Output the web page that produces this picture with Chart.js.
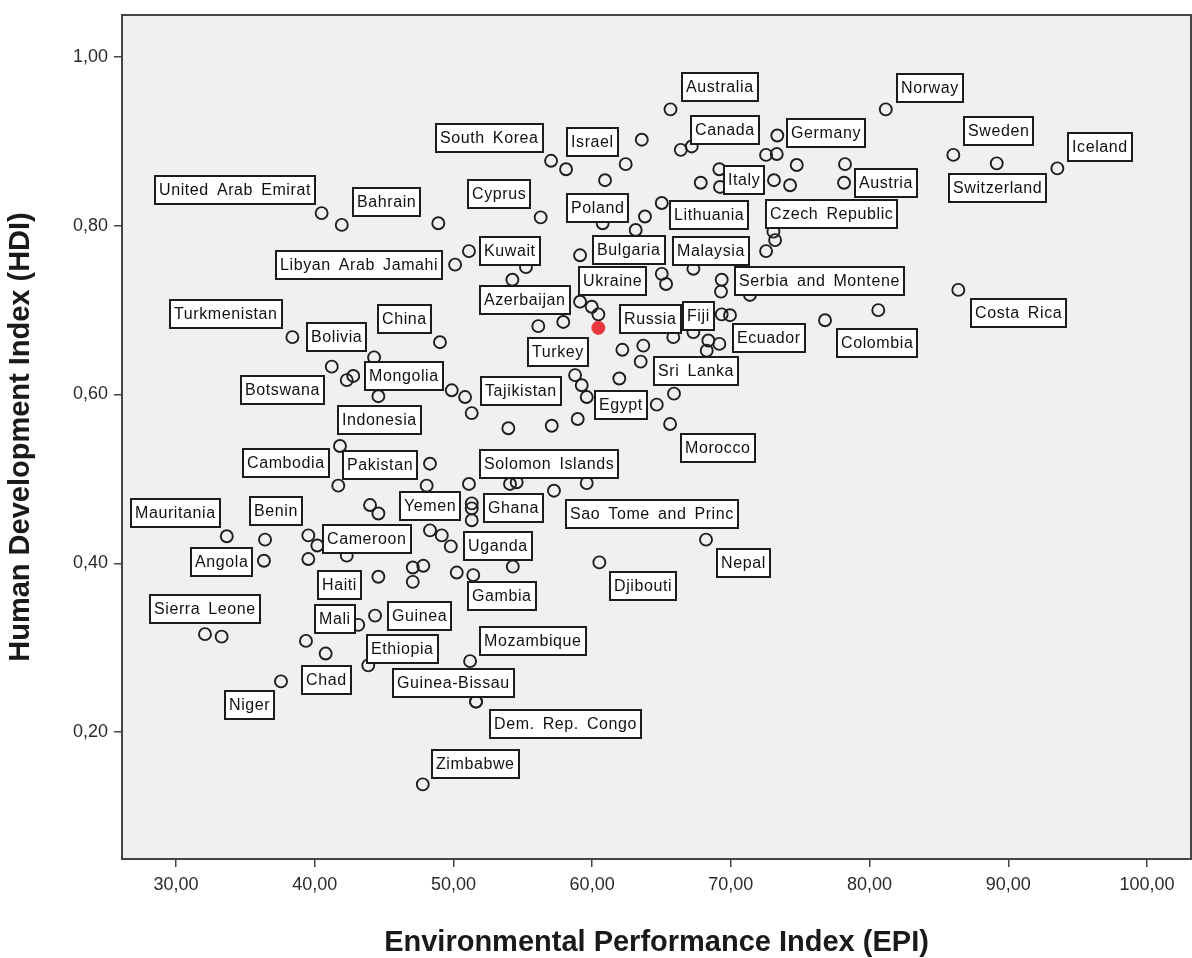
<!DOCTYPE html>
<html lang="en">
<head>
<meta charset="UTF-8">
<title>EPI vs HDI</title>
<script src="https://cdn.jsdelivr.net/npm/chart.js"></script>
<style>
  html, body { margin: 0; padding: 0; background: #fff; overflow: hidden; }
  .wrap { width: 1192px; height: 958px; position: relative; }
  canvas { display: block; }
</style>
</head>
<body>
<div class="wrap"><canvas id="chart"></canvas></div>
<script>
// Environmental Performance Index (x) vs Human Development Index (y)
const epi = [
  65.65, 81.17, 86.04, 89.17, 93.54, 86.40, 66.39, 67.18, 73.35, 72.54,
  73.31, 74.75, 78.23, 78.16, 67.83, 69.17, 69.22, 73.11, 74.27, 65.02,
  73.19, 72.54, 73.07, 67.30, 65.33, 65.02, 69.34, 69.29, 71.38, 57.04,
  58.12, 62.42, 63.58, 60.93, 56.29, 48.91, 63.81, 60.76, 63.14, 51.12,
  50.12, 55.23, 54.25, 59.13, 40.50, 41.95, 38.39, 41.23, 42.31, 42.78,
  44.28, 44.59, 41.82, 41.70, 43.99, 44.59, 33.66, 36.42, 39.54, 40.19,
  42.31, 36.34, 39.54, 44.59, 59.13, 59.97, 60.45, 57.92, 56.12, 49.03,
  62.18, 63.69, 63.50, 61.96, 58.77, 59.25, 59.61, 49.88, 50.84, 51.32,
  64.66, 53.96, 57.09, 58.96, 48.31, 51.12, 48.07, 54.08, 54.56, 59.61,
  57.25, 51.32, 51.32, 51.32, 48.31, 49.16, 49.81, 47.07, 47.83, 50.24,
  51.43, 54.28, 60.52, 69.34, 69.94, 76.79, 80.63, 65.85, 67.30, 68.38,
  69.17, 68.26, 65.90, 65.62, 68.21, 32.09, 33.29, 44.35, 43.14, 39.37,
  40.79, 43.86, 37.57, 51.20, 51.63, 51.63, 47.79, 47.07, 60.45
];
const hdi = [
  0.938, 0.938, 0.884, 0.874, 0.868, 0.724, 0.890, 0.894, 0.907, 0.884,
  0.885, 0.872, 0.873, 0.851, 0.851, 0.867, 0.846, 0.854, 0.848, 0.827,
  0.783, 0.770, 0.793, 0.749, 0.731, 0.743, 0.736, 0.722, 0.718, 0.877,
  0.867, 0.873, 0.902, 0.854, 0.810, 0.803, 0.811, 0.803, 0.795, 0.770,
  0.754, 0.751, 0.736, 0.765, 0.815, 0.801, 0.668, 0.633, 0.617, 0.622,
  0.644, 0.598, 0.539, 0.492, 0.469, 0.459, 0.432, 0.428, 0.433, 0.421,
  0.409, 0.403, 0.405, 0.384, 0.710, 0.704, 0.695, 0.686, 0.681, 0.662,
  0.653, 0.658, 0.639, 0.619, 0.623, 0.611, 0.597, 0.605, 0.597, 0.578,
  0.588, 0.560, 0.563, 0.571, 0.518, 0.494, 0.492, 0.494, 0.496, 0.495,
  0.486, 0.471, 0.465, 0.451, 0.439, 0.433, 0.420, 0.395, 0.397, 0.389,
  0.386, 0.396, 0.401, 0.695, 0.694, 0.688, 0.700, 0.668, 0.674, 0.664,
  0.660, 0.652, 0.601, 0.565, 0.428, 0.316, 0.313, 0.338, 0.327, 0.308,
  0.293, 0.279, 0.260, 0.284, 0.236, 0.236, 0.138, 0.378, 0.679
];
const country = [
  'Australia', 'Norway', 'Sweden', 'Switzerland', 'Iceland', 'Costa Rica', 'Canada', '', 'Germany', '',
  '', '', '', 'Austria', '', '', 'Italy', '', '', 'Lithuania',
  'Czech Republic', '', '', 'Malaysia', '', 'Bulgaria', 'Serbia and Montene', '', '', 'South Korea',
  '', 'Israel', '', '', 'Cyprus', '', '', '', 'Poland', 'Kuwait',
  'Libyan Arab Jamahi', '', '', '', 'United Arab Emirat', 'Bahrain', 'Turkmenistan', 'Botswana', '', '',
  'Bolivia', 'Mongolia', 'Indonesia', 'Cambodia', '', '', 'Mauritania', '', 'Benin', '',
  'Cameroon', 'Angola', '', 'Haiti', 'Ukraine', '', '', 'Azerbaijan', 'Turkey', 'China',
  '', '', '', '', '', '', 'Egypt', '', '', 'Tajikistan',
  '', '', '', '', 'Pakistan', 'Solomon Islands', '', '', '', '',
  'Sao Tome and Princ', 'Yemen', 'Ghana', 'Uganda', '', '', '', '', '', '',
  'Gambia', '', 'Djibouti', 'Fiji', 'Ecuador', 'Colombia', '', '', '', '',
  '', 'Sri Lanka', '', 'Morocco', 'Nepal', 'Sierra Leone', '', 'Guinea', 'Mali', '',
  'Chad', 'Ethiopia', 'Niger', 'Mozambique', 'Guinea-Bissau', 'Dem. Rep. Congo', 'Zimbabwe', '', 'Russia'
];
const highlighted = 'Russia';
const xTicks = [30, 40, 50, 60, 70, 80, 90, 100];
const yTicks = [0.2, 0.4, 0.6, 0.8, 1.0];

// where each label box sits, as a pixel offset of its centre from the point
const labelOffsets = {
  'Australia': [49, -22.5], 'Norway': [44, -21], 'Sweden': [45, -24], 'Iceland': [43, -21],
  'Switzerland': [1, 25], 'Austria': [42, 0], 'Germany': [49, -2], 'Canada': [44, -20],
  'Italy': [24, -7], 'Lithuania': [47, 12], 'Czech Republic': [56, -26], 'Malaysia': [17.5, -18],
  'Serbia and Montene': [98, 1.5], 'Costa Rica': [60, 23.5], 'Colombia': [51.5, 23], 'Ecuador': [38.5, 23],
  'Fiji': [-23.4, 1.3], 'Russia': [52.5, -9], 'Sri Lanka': [-11, 20], 'Morocco': [48, 24],
  'Egypt': [34.6, 7.5], 'Nepal': [37, 23.5], 'Djibouti': [44, 24], 'Sao Tome and Princ': [97.7, 23],
  'Solomon Islands': [80.5, -20], 'Ghana': [42, 0], 'Yemen': [-41.4, 3], 'Uganda': [26, 26],
  'Gambia': [29, 21], 'Mozambique': [63, -20], 'Guinea-Bissau': [-22.7, -19], 'Dem. Rep. Congo': [89, 22.6],
  'Zimbabwe': [53, -20.5], 'Niger': [-31.7, 23.5], 'Chad': [1.3, 26], 'Ethiopia': [34, -16],
  'Mali': [-23, -6], 'Guinea': [44, 0], 'Haiti': [-38.5, 8.5], 'Sierra Leone': [0.5, -25],
  'Angola': [-42.3, 1.3], 'Mauritania': [-51.4, -23.7], 'Benin': [-32.3, -24], 'Cameroon': [20, -17],
  'Cambodia': [-52.5, -23], 'Pakistan': [-50, 1], 'Indonesia': [40, -25.7], 'Botswana': [-49.5, 23.6],
  'Bolivia': [-37.3, -20.4], 'Turkmenistan': [-66.6, -23], 'Mongolia': [25.7, -20], 'China': [-35.3, -23.7],
  'Tajikistan': [49.5, -21.7], 'Azerbaijan': [-38.6, -22.2], 'Turkey': [19.7, 26], 'Ukraine': [32.3, -20.4],
  'Bulgaria': [-33, -24], 'Poland': [-38.5, -22.3], 'Cyprus': [-41.2, -23], 'Israel': [-33, -22.6],
  'South Korea': [-61.8, -23], 'Bahrain': [44.6, -23], 'United Arab Emirat': [-86.7, -23.3],
  'Libyan Arab Jamahi': [-95.7, 0], 'Kuwait': [41.5, 0]
};

const fmt = v => v.toFixed(2).replace('.', ',');
const FONT = '"Liberation Sans", Arial, sans-serif';

// no extra room for overhanging tick labels, the plot box fills its area
function fixPadding(s) {
  s.paddingLeft = 0; s.paddingRight = 0; s.paddingTop = 0; s.paddingBottom = 0;
}

const plotFrame = {
  id: 'plotFrame',
  beforeDraw(chart) {
    const { ctx, chartArea: a } = chart;
    ctx.save();
    ctx.fillStyle = '#f0f0f0';
    ctx.fillRect(a.left, a.top, a.right - a.left, a.bottom - a.top);
    ctx.restore();
  },
  afterDraw(chart) {
    const { ctx, chartArea: a } = chart;
    ctx.save();
    ctx.strokeStyle = '#444';
    ctx.lineWidth = 2;
    ctx.strokeRect(a.left, a.top, a.right - a.left, a.bottom - a.top);
    ctx.restore();
  }
};

const pointLabels = {
  id: 'pointLabels',
  afterDatasetsDraw(chart) {
    const { ctx } = chart;
    const meta = chart.getDatasetMeta(0);
    ctx.save();
    ctx.font = '16px ' + FONT;
    if ('letterSpacing' in ctx) ctx.letterSpacing = '0.6px';
    if ('wordSpacing' in ctx) ctx.wordSpacing = '3px';
    ctx.textAlign = 'left';
    ctx.textBaseline = 'middle';
    country.forEach((name, i) => {
      if (!name) return;
      const el = meta.data[i];
      const off = labelOffsets[name] || [40, -20];
      const cx = el.x + off[0];
      const cy = el.y + off[1];
      const tw = ctx.measureText(name).width;
      const w = Math.round(tw + 10), h = 30;
      const left = Math.round(cx - w / 2), top = Math.round(cy - h / 2);
      ctx.fillStyle = '#fff';
      ctx.fillRect(left, top, w, h);
      ctx.lineWidth = 2;
      ctx.strokeStyle = '#1c1c1c';
      ctx.strokeRect(left + 1, top + 1, w - 2, h - 2);
      ctx.fillStyle = '#111';
      ctx.fillText(name, left + 5, top + h / 2 + 1);
    });
    ctx.restore();
  }
};

new Chart(document.getElementById('chart'), {
  type: 'scatter',
  data: {
    datasets: [{
      data: epi.map((v, i) => ({ x: v, y: hdi[i] })),
      pointRadius: country.map(n => n === highlighted ? 6.5 : 6),
      pointBorderWidth: country.map(n => n === highlighted ? 1 : 1.9),
      pointBorderColor: country.map(n => n === highlighted ? '#e8383d' : '#1e1e1e'),
      pointBackgroundColor: country.map(n => n === highlighted ? '#e8383d' : 'rgba(0,0,0,0)'),
      pointHoverRadius: 6
    }]
  },
  options: {
    responsive: true,
    maintainAspectRatio: false,
    devicePixelRatio: 1,
    animation: false,
    layout: { autoPadding: false, padding: { top: 15, right: 1, left: 0, bottom: 0 } },
    plugins: { legend: { display: false }, tooltip: { enabled: false } },
    scales: {
      x: {
        type: 'linear',
        min: 26.107,
        max: 103.174,
        afterBuildTicks: s => { s.ticks = xTicks.map(v => ({ value: v })); },
        afterFit: s => { s.height = 99; fixPadding(s); },
        border: { display: false },
        grid: { drawOnChartArea: false, drawTicks: true, tickLength: 8, color: '#444', lineWidth: 1.5 },
        ticks: { callback: v => fmt(v), color: '#2a2a2a', font: { size: 18, family: FONT }, padding: 7, maxRotation: 0 },
        title: {
          display: true,
          text: 'Environmental Performance Index (EPI)',
          color: '#1a1a1a',
          font: { size: 29, weight: 'bold', family: FONT, lineHeight: 1 },
          padding: { top: 0, bottom: 1 }
        }
      },
      y: {
        type: 'linear',
        min: 0.0495,
        max: 1.0498,
        afterBuildTicks: s => { s.ticks = yTicks.map(v => ({ value: v })); },
        afterFit: s => { s.width = 122; fixPadding(s); },
        border: { display: false },
        grid: { drawOnChartArea: false, drawTicks: true, tickLength: 8, color: '#444', lineWidth: 1.5 },
        ticks: { callback: v => fmt(v), color: '#2a2a2a', font: { size: 18, family: FONT }, padding: 6 },
        title: {
          display: true,
          text: 'Human Development Index (HDI)',
          color: '#1a1a1a',
          font: { size: 29, weight: 'bold', family: FONT, lineHeight: 1 },
          padding: { top: 6, bottom: 0 }
        }
      }
    }
  },
  plugins: [plotFrame, pointLabels]
});
</script>
</body>
</html>
